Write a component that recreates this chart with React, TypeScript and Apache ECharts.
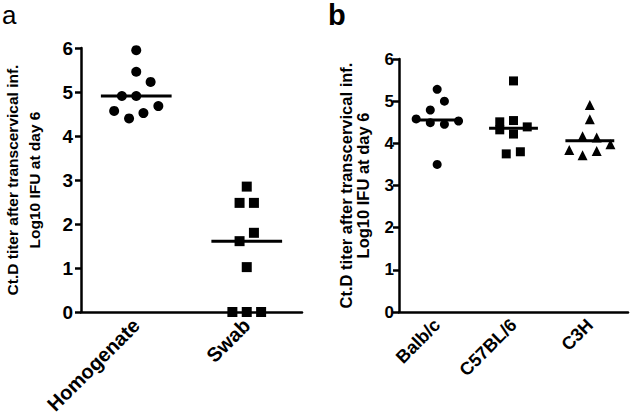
import React, { useEffect, useRef } from "react";
import * as echarts from "echarts";

const panelACategories = ["Homogenate", "Swab"];
const homogenateValues = [5.95, 5.46, 5.23, 4.91, 4.91, 4.57, 4.4, 4.52, 4.68];
const homogenateJitter = [0, 0, 0.13, -0.13, 0, -0.2, -0.065, 0.065, 0.2];
const swabValues = [2.85, 2.48, 2.48, 1.8, 1.61, 1.02, 0, 0, 0];
const swabJitter = [0, -0.065, 0.065, 0.065, -0.065, 0, -0.13, 0, 0.13];

const panelBCategories = ["Balb/c", "C57BL/6", "C3H"];
const balbValues = [5.28, 5.0, 4.79, 4.58, 4.49, 4.45, 4.53, 3.5];
const balbJitter = [0, 0.095, -0.09, -0.275, -0.09, 0.095, 0.28, 0];
const c57Values = [5.48, 4.51, 4.54, 4.39, 4.32, 4.22, 3.75, 3.8];
const c57Jitter = [0, -0.18, 0, 0.18, -0.18, 0, -0.095, 0.09];
const c3hValues = [4.91, 4.57, 4.17, 4.14, 3.98, 3.84, 3.72, 3.82];
const c3hJitter = [0, 0, -0.095, 0.09, 0.27, -0.27, -0.095, 0.09];

const yAxisTitle = "Ct.D titer after transcervical inf.\nLog10 IFU at day 6";
const yMin = 0;
const yMax = 6;
const yStep = 1;

const FONT = "'Liberation Sans', Arial, Helvetica, sans-serif";

function median(arr: number[]) {
  const s = [...arr].sort((a, b) => a - b);
  const m = Math.floor(s.length / 2);
  return s.length % 2 ? s[m] : (s[m - 1] + s[m]) / 2;
}

export default function App() {
  const ref = useRef<HTMLDivElement>(null);
  useEffect(() => {
    if (!ref.current) return;
    const chart = echarts.init(ref.current, undefined, { renderer: "svg" });

    const groups = [
      { grid: 0, pos: 1, values: homogenateValues, jitter: homogenateJitter, symbol: "circle", size: 10 },
      { grid: 0, pos: 2, values: swabValues, jitter: swabJitter, symbol: "rect", size: 10 },
      { grid: 1, pos: 1, values: balbValues, jitter: balbJitter, symbol: "circle", size: 9 },
      { grid: 1, pos: 2, values: c57Values, jitter: c57Jitter, symbol: "rect", size: 9 },
      { grid: 1, pos: 3, values: c3hValues, jitter: c3hJitter, symbol: "triangle", size: 10 },
    ];

    const series: any[] = [];
    groups.forEach((g) => {
      series.push({
        type: "scatter",
        xAxisIndex: g.grid * 2 + 1,
        yAxisIndex: g.grid,
        symbol: g.symbol,
        symbolSize: g.size,
        clip: false,
        itemStyle: { color: "#000", opacity: 1 },
        data: g.values.map((v, i) => [g.pos + g.jitter[i], v]),
      });
      const m = median(g.values);
      series.push({
        type: "line",
        xAxisIndex: g.grid * 2 + 1,
        yAxisIndex: g.grid,
        symbol: "none",
        lineStyle: { color: "#000", width: 3 },
        z: 3,
        data: [
          [g.pos - 0.32, m],
          [g.pos + 0.32, m],
        ],
      });
    });

    const catAxis = (gridIndex: number, cats: string[], fs: number) => ({
      type: "category",
      gridIndex,
      data: cats,
      boundaryGap: true,
      axisLine: { lineStyle: { color: "#000", width: 2.5 } },
      axisTick: { alignWithLabel: true, length: 6, lineStyle: { color: "#000", width: 2.5 } },
      axisLabel: {
        interval: 0,
        rotate: 45,
        margin: 10,
        color: "#000",
        fontSize: fs,
        fontWeight: "bold",
        fontFamily: FONT,
      },
    });
    const valXAxis = (gridIndex: number, n: number) => ({
      type: "value",
      gridIndex,
      min: 0.5,
      max: n + 0.5,
      show: false,
    });
    const yAxis = (gridIndex: number, fs: number, titleFs: number, lh: number, gap: number, margin: number) => ({
      type: "value",
      gridIndex,
      min: yMin,
      max: yMax,
      interval: yStep,
      splitLine: { show: false },
      axisLine: { show: true, lineStyle: { color: "#000", width: 2.5 } },
      axisTick: { show: true, length: 6, lineStyle: { color: "#000", width: 2.5 } },
      axisLabel: { color: "#000", fontSize: fs, fontWeight: "bold", fontFamily: FONT, margin },
      name: yAxisTitle,
      nameLocation: "middle",
      nameRotate: 90,
      nameGap: gap,
      nameTextStyle: { color: "#000", fontSize: titleFs, fontWeight: "bold", fontFamily: FONT, lineHeight: lh },
    });

    chart.setOption({
      animation: false,
      backgroundColor: "#fff",
      grid: [
        { left: 77, top: 48, right: 330, bottom: 108 },
        { left: 399, top: 59, right: 4, bottom: 108 },
      ],
      xAxis: [
        catAxis(0, panelACategories, 20),
        valXAxis(0, panelACategories.length),
        catAxis(1, panelBCategories, 18),
        valXAxis(1, panelBCategories.length),
      ],
      yAxis: [yAxis(0, 19, 15.5, 22, 36, 8), yAxis(1, 17, 16.5, 17, 28, 5)],
      graphic: [
        { type: "text", left: 2, top: 2, style: { text: "a", fontSize: 26, fontFamily: FONT, fill: "#000" } },
        { type: "text", left: 328, top: 0, style: { text: "b", fontSize: 29, fontWeight: "bold", fontFamily: FONT, fill: "#000" } },
      ],
      series,
    });
    return () => chart.dispose();
  }, []);
  return <div ref={ref} style={{ position: "fixed", left: 0, top: 0, width: 632, height: 420 }} />;
}
